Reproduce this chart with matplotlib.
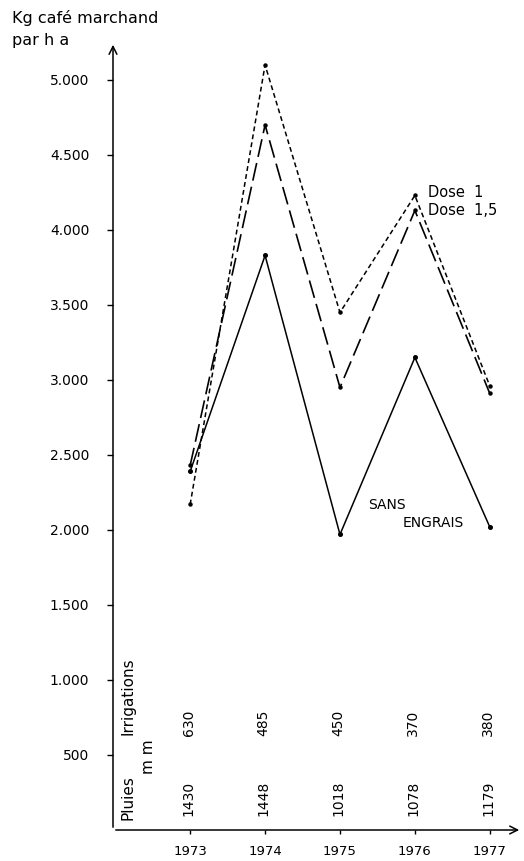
import matplotlib
matplotlib.use("Agg")
import matplotlib.pyplot as plt

plt.rcParams['font.family'] = ['DejaVu Sans']
plt.rcParams['lines.scale_dashes'] = False

# Yield of marketable coffee (kg/ha) per year and fertiliser treatment
years = [1973, 1974, 1975, 1976, 1977]
dose_1 = [2170, 5100, 3450, 4230, 2960]
dose_1_5 = [2430, 4700, 2950, 4130, 2910]
sans_engrais = [2390, 3830, 1970, 3150, 2020]

# Water supply (mm)
irrigations = [630, 485, 450, 370, 380]
pluies = [1430, 1448, 1018, 1078, 1179]

y_ticks = [500, 1000, 1500, 2000, 2500, 3000, 3500, 4000, 4500, 5000]
y_tick_labels = ["500", "1.000", "1.500", "2.000", "2.500", "3.000",
                 "3.500", "4.000", "4.500", "5.000"]

W, H = 524, 861
fig = plt.figure(figsize=(W / 100, H / 100), dpi=100)
left, right, bottom, top = 113, 522, 830, 42
ax = fig.add_axes([left / W, (H - bottom) / H, (right - left) / W, (bottom - top) / H])
ax.set_xlim(1971.97, 1977.43)
ax.set_ylim(0, 5253)

for s in ax.spines.values():
    s.set_visible(False)

# axes drawn as arrows
arrow = dict(arrowstyle='->', lw=1.1, color='black', mutation_scale=14)
ax.annotate('', xy=(0, 1), xytext=(0, 0), xycoords='axes fraction',
            arrowprops=arrow, annotation_clip=False)
ax.annotate('', xy=(1, 0), xytext=(0, 0), xycoords='axes fraction',
            arrowprops=arrow, annotation_clip=False)

ax.plot(years, dose_1, color='black', lw=1.1, linestyle=(0, (3.5, 2.3)),
        marker='o', markersize=2.2, clip_on=False)
ax.plot(years, dose_1_5, color='black', lw=1.2, linestyle=(0, (13, 4.5)),
        marker='o', markersize=2.2, clip_on=False)
ax.plot(years, sans_engrais, color='black', lw=1.1, linestyle='-',
        marker='o', markersize=2.6, clip_on=False)

ax.set_yticks(y_ticks)
ax.set_yticklabels(y_tick_labels)
ax.set_xticks(years)
ax.set_xticklabels([str(y) for y in years])
ax.tick_params(axis='y', direction='out', length=4, width=1, pad=13, labelsize=10)
ax.tick_params(axis='x', direction='out', length=3, width=1, pad=8, labelsize=9.5)

# axis title
fig.text(12 / W, 1 - 18 / H, "Kg café marchand", fontsize=11.5, va='center', ha='left')
fig.text(12 / W, 1 - 40 / H, "par h a", fontsize=11.5, va='center', ha='left')

# series labels
ax.text(1976.17, 4253, "Dose  1", fontsize=10.5, va='center', ha='left')
ax.text(1976.17, 4127, "Dose  1,5", fontsize=10.5, va='center', ha='left')
ax.text(1975.37, 2167, "SANS", fontsize=10, va='center', ha='left')
ax.text(1975.84, 2047, "ENGRAIS", fontsize=10, va='center', ha='left')

# water supply table (vertical text)
ax.text(1972.17, 890, "Irrigations", rotation=90, fontsize=11, ha='center', va='center')
ax.text(1972.17, 213, "Pluies", rotation=90, fontsize=11, ha='center', va='center')
ax.text(1972.44, 487, "m m", rotation=90, fontsize=11, ha='center', va='center')
for yr, irr, pl in zip(years, irrigations, pluies):
    ax.text(yr - 0.02, 713, str(irr), rotation=90, fontsize=10, ha='center', va='center')
    ax.text(yr - 0.02, 213, str(pl), rotation=90, fontsize=10, ha='center', va='center')

fig.savefig("out.png", dpi=100)
